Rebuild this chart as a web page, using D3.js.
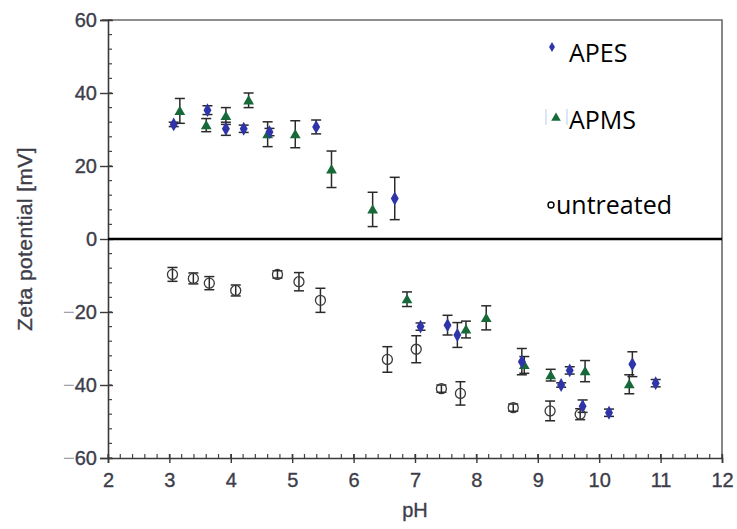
<!DOCTYPE html>
<html>
<head>
<meta charset="utf-8">
<script src="https://cdn.jsdelivr.net/npm/d3@7"></script>
<style>
  body { margin: 0; background: #fff; }
  svg { display: block; }
</style>
</head>
<body>
<div id="chart"></div>
<script>
// values: pH, zeta potential (mV), error (+/- mV)
var apesPH = [3.07, 3.62, 3.92, 4.21, 4.63, 5.39, 6.67, 7.09, 7.53, 7.69, 8.74, 9.38, 9.52, 9.73, 10.16, 10.54, 10.92]
var apesZeta = [31.4, 35.3, 30.2, 30.2, 29.3, 30.7, 11.1, -24.0, -23.6, -26.3, -33.6, -40.0, -36.0, -45.8, -47.6, -34.3, -39.5]
var apesErr = [0.6, 1.2, 1.8, 1.0, 1.0, 1.9, 5.8, 1.0, 2.7, 3.4, 3.6, 0.6, 1.0, 1.7, 1.0, 3.4, 1.0]

var apmsPH = [3.17, 3.6, 3.92, 4.29, 4.6, 5.05, 5.64, 6.31, 6.87, 7.83, 8.16, 8.78, 9.21, 9.77, 10.49]
var apmsZeta = [35.1, 31.2, 33.7, 38.0, 28.7, 28.7, 19.1, 8.1, -16.5, -24.8, -21.6, -34.5, -37.3, -36.2, -39.8]
var apmsErr = [3.4, 1.8, 2.3, 2.0, 3.4, 3.7, 5.0, 4.7, 2.0, 2.3, 3.3, 2.3, 1.6, 2.9, 2.6]

var untreatedPH = [3.05, 3.39, 3.65, 4.08, 4.76, 5.11, 5.46, 6.55, 7.02, 7.43, 7.74, 8.6, 9.2, 9.69]
var untreatedZeta = [-9.7, -10.8, -12.1, -14.1, -9.7, -11.7, -16.8, -33.0, -30.2, -41.0, -42.3, -46.2, -47.1, -48.0]
var untreatedErr = [1.9, 1.5, 1.8, 1.5, 1.0, 2.5, 3.3, 3.5, 3.7, 1.0, 3.2, 1.0, 2.7, 1.5]

var xTicks = [2, 3, 4, 5, 6, 7, 8, 9, 10, 11, 12]
var yTicks = [-60, -40, -20, 0, 20, 40, 60]
var legendLabels = ['APES', 'APMS', 'untreated']

var width = 737
var height = 529
var margin = { top: 20, right: 15, bottom: 71, left: 108 }
var labelFont = '"Liberation Sans", Arial, sans-serif'

var svg = d3.select('#chart').append('svg')
    .attr('width', width)
    .attr('height', height)

var x = d3.scaleLinear().domain([2, 12]).range([margin.left, width - margin.right])
var y = d3.scaleLinear().domain([-60, 60]).range([height - margin.bottom, margin.top])

function zip(px, pz, pe) {
    return px.map(function (p, i) { return { ph: p, z: pz[i], err: pe[i] } })
}

var apes = zip(apesPH, apesZeta, apesErr)
var apms = zip(apmsPH, apmsZeta, apmsErr)
var untreated = zip(untreatedPH, untreatedZeta, untreatedErr)

// frame top / right
svg.append('path')
    .attr('d', 'M' + (x(2) - 6) + ',' + y(60) + 'H' + x(12) + 'V' + y(-60))
    .attr('fill', 'none')
    .attr('stroke', '#6a6a6a')
    .attr('stroke-width', 1.6)

// minor ticks (inward)
var g = svg.append('g').attr('class', 'axes')
g.selectAll('.xminor')
    .data(d3.range(2, 12.001, 0.2))
    .enter().append('line')
    .attr('x1', function (d) { return x(d) })
    .attr('x2', function (d) { return x(d) })
    .attr('y1', y(-60))
    .attr('y2', y(-60) - 4)
    .attr('stroke', '#444')
    .attr('stroke-width', 1.2)

g.selectAll('.yminor')
    .data(d3.range(-60, 60.001, 4))
    .enter().append('line')
    .attr('y1', function (d) { return y(d) })
    .attr('y2', function (d) { return y(d) })
    .attr('x1', x(2))
    .attr('x2', x(2) + 4)
    .attr('stroke', '#444')
    .attr('stroke-width', 1.2)

var xAxis = d3.axisBottom(x).tickValues(xTicks).tickSize(5).tickPadding(10)
    .tickFormat(function (d) { return d })
var yAxis = d3.axisLeft(y).tickValues(yTicks).tickSize(8).tickPadding(3)
    .tickFormat(function (d) { return Math.abs(d) })

var gx = svg.append('g')
    .attr('transform', 'translate(0,' + y(-60) + ')')
    .call(xAxis)
var gy = svg.append('g')
    .attr('transform', 'translate(' + x(2) + ',0)')
    .call(yAxis)

;[gx, gy].forEach(function (ax) {
    ax.select('.domain').attr('stroke', '#3a3a3a').attr('stroke-width', 1.6)
    ax.selectAll('.tick line').attr('stroke', '#3a3a3a').attr('stroke-width', 1.4)
    ax.selectAll('.tick text')
        .attr('fill', '#3d3d4a')
        .attr('stroke', '#3d3d4a')
        .attr('stroke-width', 0.35)
        .style('font-family', labelFont)
        .style('font-size', '20px')
})
// negative labels get a pale minus sign in front
gy.selectAll('.tick text').each(function (d) {
    if (d >= 0) return
    var t = d3.select(this)
    var num = t.text()
    t.text('')
    t.append('tspan').attr('fill', '#a0a0a8').attr('stroke', 'none').text('\u2212')
    t.append('tspan').text(num)
})
// major ticks cross the axis
gx.selectAll('.tick line').attr('y1', -4)
gy.selectAll('.tick line').attr('x1', 5)

// zero line
svg.append('line')
    .attr('x1', x(2))
    .attr('x2', x(12))
    .attr('y1', y(0))
    .attr('y2', y(0))
    .attr('stroke', '#000')
    .attr('stroke-width', 2.4)

// axis titles
svg.append('text')
    .attr('x', x(7))
    .attr('y', 517)
    .attr('text-anchor', 'middle')
    .attr('fill', '#3d3d4a')
    .attr('stroke', '#3d3d4a')
    .attr('stroke-width', 0.35)
    .style('font-family', labelFont)
    .style('font-size', '20px')
    .text('pH')

svg.append('text')
    .attr('transform', 'translate(32,' + y(0) + ') rotate(-90)')
    .attr('text-anchor', 'middle')
    .attr('fill', '#3d3d4a')
    .attr('stroke', '#3d3d4a')
    .attr('stroke-width', 0.35)
    .style('font-family', labelFont)
    .style('font-size', '21px')
    .style('letter-spacing', '0.4px')
    .text('Zeta potential [mV]')

// error bars
function drawErrors(data) {
    var eg = svg.append('g')
    var bars = eg.selectAll('g').data(data).enter().append('g')
    bars.append('line')
        .attr('x1', function (d) { return x(d.ph) })
        .attr('x2', function (d) { return x(d.ph) })
        .attr('y1', function (d) { return y(d.z + d.err) })
        .attr('y2', function (d) { return y(d.z - d.err) })
    bars.append('line')
        .attr('x1', function (d) { return x(d.ph) - 5 })
        .attr('x2', function (d) { return x(d.ph) + 5 })
        .attr('y1', function (d) { return y(d.z + d.err) })
        .attr('y2', function (d) { return y(d.z + d.err) })
    bars.append('line')
        .attr('x1', function (d) { return x(d.ph) - 5 })
        .attr('x2', function (d) { return x(d.ph) + 5 })
        .attr('y1', function (d) { return y(d.z - d.err) })
        .attr('y2', function (d) { return y(d.z - d.err) })
    bars.selectAll('line').attr('stroke', '#2a2a2a').attr('stroke-width', 1.5)
}

drawErrors(untreated)
drawErrors(apms)
drawErrors(apes)

var diamond = d3.symbol().type(d3.symbolDiamond).size(55)
var triangle = d3.symbol().type(d3.symbolTriangle).size(50)

svg.append('g').selectAll('circle')
    .data(untreated)
    .enter().append('circle')
    .attr('cx', function (d) { return x(d.ph) })
    .attr('cy', function (d) { return y(d.z) })
    .attr('r', 5)
    .attr('fill', 'none')
    .attr('stroke', '#3a3a3a')
    .attr('stroke-width', 1.3)

svg.append('g').selectAll('path')
    .data(apms)
    .enter().append('path')
    .attr('d', triangle)
    .attr('transform', function (d) { return 'translate(' + x(d.ph) + ',' + (y(d.z) + 1) + ')' })
    .attr('fill', '#17693a')

svg.append('g').selectAll('path')
    .data(apes)
    .enter().append('path')
    .attr('d', diamond)
    .attr('transform', function (d) { return 'translate(' + x(d.ph) + ',' + y(d.z) + ')' })
    .attr('fill', '#2f35a8')

// legend
var legend = svg.append('g')
    .style('font-family', '"Open Sans", "Noto Sans", sans-serif')
    .style('font-size', '25px')
    .attr('fill', '#000')

legend.append('path')
    .attr('d', d3.symbol().type(d3.symbolDiamond).size(30))
    .attr('transform', 'translate(552,47)')
    .attr('fill', '#2f35a8')
legend.append('text').attr('x', 569).attr('y', 62).text(legendLabels[0])

legend.append('path')
    .attr('d', 'M546,109V125M567,109V125')
    .attr('stroke', '#cfdff0')
    .attr('stroke-width', 1.5)
legend.append('path')
    .attr('d', d3.symbol().type(d3.symbolTriangle).size(40))
    .attr('transform', 'translate(556,118)')
    .attr('fill', '#17693a')
legend.append('text').attr('x', 569).attr('y', 129).text(legendLabels[1])

legend.append('circle')
    .attr('cx', 551)
    .attr('cy', 205)
    .attr('r', 3)
    .attr('fill', 'none')
    .attr('stroke', '#000')
    .attr('stroke-width', 1.4)
legend.append('text').attr('x', 556).attr('y', 214).text(legendLabels[2])
</script>
</body>
</html>
